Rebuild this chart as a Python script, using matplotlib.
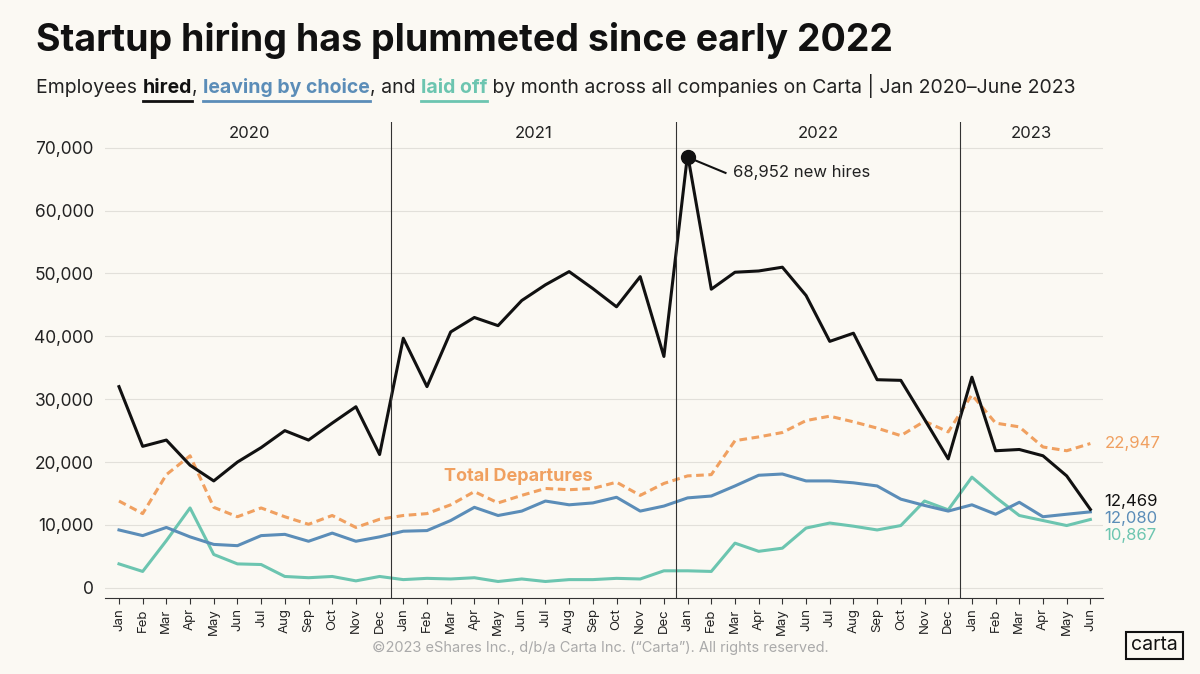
import matplotlib.pyplot as plt
from matplotlib.lines import Line2D

months = ["Jan", "Feb", "Mar", "Apr", "May", "Jun", "Jul", "Aug", "Sep", "Oct", "Nov", "Dec"]
labels = months * 3 + months[:6]
years = ["2020", "2021", "2022", "2023"]

hired = [32000, 22500, 23500, 19500, 17000, 20000, 22300, 25000, 23500, 26200, 28800, 21200,
         39700, 32000, 40700, 43000, 41700, 45700, 48200, 50300, 47600, 44700, 49500, 36800,
         68952, 47500, 50200, 50400, 51000, 46500, 39200, 40500, 33100, 33000, 26800, 20500,
         33500, 21800, 22000, 21000, 17800, 12469]
departures = [13800, 11800, 18000, 21000, 12800, 11300, 12700, 11300, 10100, 11500, 9600, 10900,
              11500, 11800, 13200, 15300, 13500, 14700, 15800, 15600, 15800, 16800, 14700, 16600,
              17800, 18000, 23400, 24000, 24700, 26600, 27300, 26400, 25400, 24200, 26500, 24800,
              30700, 26200, 25600, 22400, 21800, 22947]
leaving = [9200, 8300, 9600, 8100, 6900, 6700, 8300, 8500, 7400, 8700, 7400, 8100,
           9000, 9100, 10700, 12800, 11500, 12200, 13800, 13200, 13500, 14400, 12200, 13000,
           14300, 14600, 16200, 17900, 18100, 17000, 17000, 16700, 16200, 14100, 13100, 12200,
           13200, 11700, 13600, 11300, 11700, 12080]
laid_off = [3800, 2600, 7500, 12700, 5300, 3800, 3700, 1800, 1600, 1800, 1100, 1800,
            1300, 1500, 1400, 1600, 1000, 1400, 1000, 1300, 1300, 1500, 1400, 2700,
            2700, 2600, 7100, 5800, 6300, 9500, 10300, 9800, 9200, 9900, 13800, 12400,
            17600, 14400, 11500, 10700, 9900, 10867]

bg = "#FBF9F3"
c_hired = "#111111"
c_leave = "#5B8DB8"
c_laid = "#6CC5B0"
c_dep = "#F0A060"
plt.rcParams['font.family'] = ['Inter', 'DejaVu Sans']

fig = plt.figure(figsize=(12, 6.74), dpi=100, facecolor=bg)
ax = fig.add_axes([0.0875, 0.113, 0.832, 0.706], facecolor=bg)
x = list(range(len(labels)))

ax.plot(x, departures, color=c_dep, lw=2.2, ls=(0, (2.5, 1.5)))
ax.plot(x, laid_off, color=c_laid, lw=2.2)
ax.plot(x, leaving, color=c_leave, lw=2.2)
ax.plot(x, hired, color=c_hired, lw=2.2)
ax.plot([24], [68500], "o", color=c_hired, ms=10)
ax.plot([24, 25.6], [68500, 66000], color=c_hired, lw=1.5)
ax.text(25.9, 66000, "68,952 new hires", fontsize=12, va="center", color="#222")
ax.text(16.85, 17700, "Total Departures", fontsize=13, fontweight="bold", color=c_dep, ha="center",
        va="center")

# end labels, nudged apart where the lines meet
ax.text(41.6, departures[-1], f"{departures[-1]:,}", color=c_dep, fontsize=12, va="center", clip_on=False)
ax.text(41.6, 13700, f"{hired[-1]:,}", color=c_hired, fontsize=12, va="center", clip_on=False)
ax.text(41.6, 11000, f"{leaving[-1]:,}", color=c_leave, fontsize=12, va="center", clip_on=False)
ax.text(41.6, 8300, f"{laid_off[-1]:,}", color=c_laid, fontsize=12, va="center", clip_on=False)

for i, yr in enumerate(years):
    start = i * 12 - 0.5
    end = min(start + 12, len(x) - 0.5)
    if i > 0:
        ax.axvline(start, color="#333", lw=0.8)
    ax.text((start + end) / 2, 72200, yr, ha="center", va="center", fontsize=12, color="#222")

ax.set_xlim(-0.59, 41.55)
ax.set_ylim(-1600, 74100)
ax.set_yticks(range(0, 70001, 10000))
ax.set_yticklabels([f"{v:,}" for v in range(0, 70001, 10000)], fontsize=12.5, color="#222")
ax.set_xticks(x)
ax.set_xticklabels(labels, rotation=90, fontsize=9.5, color="#222")
ax.grid(axis="y", color="#E2E0DA", lw=0.8)
ax.set_axisbelow(True)
for s in ["top", "right", "left"]:
    ax.spines[s].set_visible(False)
ax.spines["bottom"].set_color("#333")
ax.tick_params(axis="y", length=0, pad=8)
ax.tick_params(axis="x", length=4, color="#333")

fig.text(0.03, 0.925, "Startup hiring has plummeted since early 2022", fontsize=27,
         fontweight="bold", color="#111", va="baseline")

parts = [("Employees ", "#222", False), ("hired", c_hired, True), (", ", "#222", False),
         ("leaving by choice", c_leave, True), (", and ", "#222", False),
         ("laid off", c_laid, True),
         (" by month across all companies on Carta | Jan 2020–June 2023", "#222", False)]
fig.canvas.draw()
r = fig.canvas.get_renderer()
xpos = 0.03 * fig.bbox.width
for txt, col, bold in parts:
    t = fig.text(xpos / fig.bbox.width, 0.862, txt, fontsize=14, color=col,
                 fontweight="bold" if bold else "normal", va="baseline")
    bb = t.get_window_extent(r)
    if bold:
        yl = bb.y0 / fig.bbox.height - 0.006
        fig.add_artist(Line2D([bb.x0 / fig.bbox.width, bb.x1 / fig.bbox.width], [yl, yl],
                              color=col, lw=2, transform=fig.transFigure))
    xpos = bb.x1

fig.text(0.5, 0.033, "©2023 eShares Inc., d/b/a Carta Inc. (“Carta”). All rights reserved.",
         ha="center", fontsize=10.5, color="#AAAAAA")
fig.text(0.962, 0.035, "carta", ha="center", fontsize=14, color="#111",
         bbox=dict(boxstyle="square,pad=0.25", fc=bg, ec="#111", lw=1.5))

fig.savefig("out.png", dpi=100, facecolor=bg)
